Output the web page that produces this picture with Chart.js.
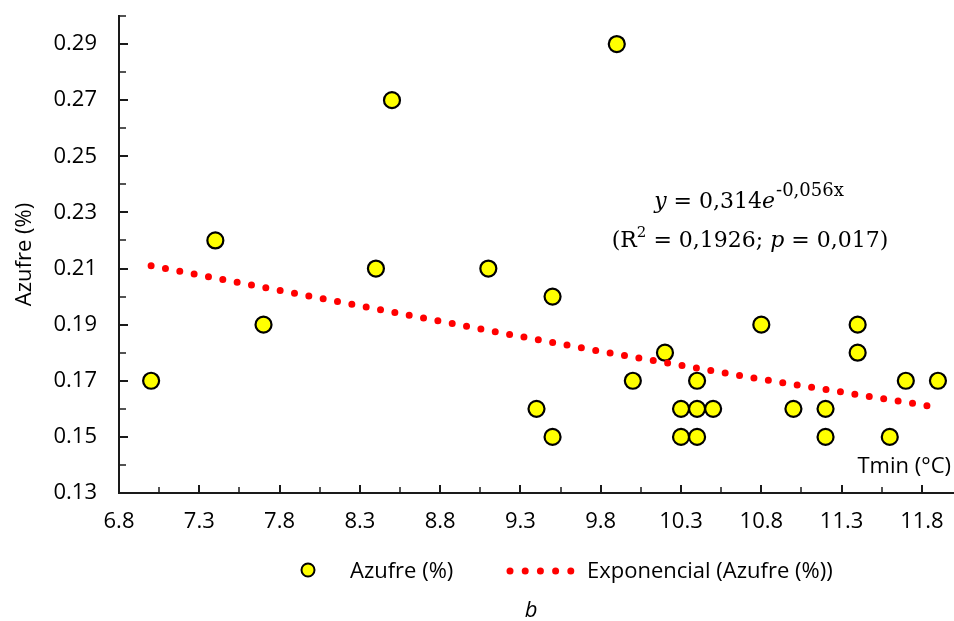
<!DOCTYPE html>
<html>
<head>
<meta charset="utf-8">
<title>Azufre vs Tmin</title>
<script src="https://cdn.jsdelivr.net/npm/chart.js@4.4.1/dist/chart.umd.min.js"></script>
<style>
  html, body { margin: 0; padding: 0; background: #fff; }
  canvas { display: block; }
</style>
</head>
<body>
<canvas id="chart" width="954" height="621"></canvas>
<script>
// Tmin (°C) vs Azufre (%)
const tmin   = [7.0, 7.4, 7.7, 8.4, 8.5, 9.1, 9.4, 9.5, 9.5, 9.9, 10.0, 10.2, 10.3, 10.3, 10.4, 10.4, 10.4, 10.5, 10.8, 11.0, 11.2, 11.2, 11.4, 11.4, 11.6, 11.7, 11.9];
const azufre = [0.17, 0.22, 0.19, 0.21, 0.27, 0.21, 0.16, 0.20, 0.15, 0.29, 0.17, 0.18, 0.16, 0.15, 0.17, 0.16, 0.15, 0.16, 0.19, 0.16, 0.16, 0.15, 0.19, 0.18, 0.15, 0.17, 0.17];

// exponential trendline
const trendX = [7.0, 8.0, 9.0, 9.75, 10.75, 11.9];
const trendY = [0.211, 0.200, 0.189, 0.181, 0.171, 0.1605];

// axis ticks
const xTicks = [6.8, 7.3, 7.8, 8.3, 8.8, 9.3, 9.8, 10.3, 10.8, 11.3, 11.8];
const xMinor = [7.05, 7.55, 8.05, 8.55, 9.05, 9.55, 10.05, 10.55, 11.05, 11.55];
const yTicks = [0.13, 0.15, 0.17, 0.19, 0.21, 0.23, 0.25, 0.27, 0.29];
const yMinor = [0.14, 0.16, 0.18, 0.20, 0.22, 0.24, 0.26, 0.28, 0.30];

const sans = '"Open Sans", "Noto Sans", sans-serif';
const serif = '"DejaVu Serif", serif';
const axisColor = '#1a1a1a';

const points = tmin.map((x, i) => ({ x: x, y: azufre[i] }));
const trend = trendX.map((x, i) => ({ x: x, y: trendY[i] }));

// draws a run of text pieces (italic / superscript) centred on cx
function drawRuns(ctx, runs, cx, baseline) {
  let total = 0;
  runs.forEach(r => {
    ctx.font = r.font;
    r.w = ctx.measureText(r.t).width + (r.gap || 0) + (r.pre || 0);
    total += r.w;
  });
  let x = cx - total / 2;
  runs.forEach(r => {
    ctx.font = r.font;
    ctx.fillText(r.t, x + (r.pre || 0), baseline - (r.rise || 0));
    x += r.w;
  });
}

const extras = {
  id: 'extras',
  afterDraw(chart) {
    const ctx = chart.ctx;
    const xs = chart.scales.x, ys = chart.scales.y;
    const area = chart.chartArea;
    ctx.save();

    // inward tick marks
    ctx.strokeStyle = axisColor;
    const mark = (x1, y1, x2, y2, w) => {
      ctx.lineWidth = w;
      ctx.beginPath();
      ctx.moveTo(x1, y1);
      ctx.lineTo(x2, y2);
      ctx.stroke();
    };
    xTicks.forEach(v => { const p = Math.round(xs.getPixelForValue(v)); mark(p, area.bottom, p, area.bottom - 8, 2); });
    xMinor.forEach(v => { const p = Math.round(xs.getPixelForValue(v)); mark(p, area.bottom, p, area.bottom - 6, 1.5); });
    yTicks.forEach(v => { const p = Math.round(ys.getPixelForValue(v)); mark(area.left, p, area.left + 9, p, 2); });
    yMinor.forEach(v => { const p = Math.round(ys.getPixelForValue(v)); mark(area.left, p, area.left + 7, p, 1.5); });

    // x axis title inside the plot
    ctx.fillStyle = '#000';
    ctx.font = '22px ' + sans;
    ctx.textAlign = 'right';
    ctx.textBaseline = 'alphabetic';
    ctx.fillText('Tmin (°C)', 951, 473);

    // trendline equation
    ctx.textAlign = 'left';
    const f = '22px ' + serif, fi = 'italic 22px ' + serif, fs = '18px ' + serif, fs2 = '15px ' + serif;
    drawRuns(ctx, [
      { t: 'y', font: fi, gap: 7 },
      { t: '=', font: f, gap: 7 },
      { t: '0,314', font: f },
      { t: 'e', font: fi, gap: 1 },
      { t: '-0,056x', font: fs, rise: 12, gap: 2 }
    ], 750, 208);
    drawRuns(ctx, [
      { t: '(R', font: f },
      { t: '2', font: fs2, rise: 10 },
      { t: '=', font: f, gap: 7, pre: 7 },
      { t: '0,1926; ', font: f },
      { t: 'p', font: fi },
      { t: '=', font: f, gap: 7, pre: 7 },
      { t: '0,017)', font: f }
    ], 750, 247);

    // legend
    ctx.fillStyle = '#ffff00';
    ctx.strokeStyle = '#000';
    ctx.lineWidth = 2;
    ctx.beginPath();
    ctx.arc(308, 570, 6.5, 0, Math.PI * 2);
    ctx.fill();
    ctx.stroke();
    ctx.fillStyle = '#000';
    ctx.font = '22px ' + sans;
    ctx.fillText('Azufre (%)', 350, 578);
    ctx.fillStyle = '#ff0000';
    for (let x = 510; x <= 572; x += 15.2) {
      ctx.beginPath();
      ctx.arc(x, 571, 3.5, 0, Math.PI * 2);
      ctx.fill();
    }
    ctx.fillStyle = '#000';
    ctx.fillText('Exponencial (Azufre (%))', 587, 578);

    // panel letter
    ctx.textAlign = 'center';
    ctx.font = 'italic 22px ' + sans;
    ctx.fillText('b', 531, 617);
    ctx.restore();
  }
};

new Chart(document.getElementById('chart'), {
  type: 'scatter',
  data: {
    datasets: [
      {
        label: 'Exponencial (Azufre (%))',
        data: trend,
        showLine: true,
        order: 1,
        borderColor: '#ff0000',
        borderWidth: 7,
        borderDash: [0, 14.6],
        borderCapStyle: 'round',
        pointRadius: 0,
        fill: false,
        tension: 0
      },
      {
        label: 'Azufre (%)',
        data: points,
        order: 2,
        backgroundColor: '#ffff00',
        borderColor: '#000',
        borderWidth: 2.2,
        pointRadius: 8,
        pointHoverRadius: 8
      }
    ]
  },
  options: {
    responsive: false,
    animation: false,
    layout: { autoPadding: false, padding: { top: 16, right: 0, bottom: 0, left: 0 } },
    plugins: {
      legend: { display: false },
      tooltip: { enabled: false }
    },
    scales: {
      x: {
        type: 'linear',
        min: 6.8,
        max: 12.0,
        afterBuildTicks: s => { s.ticks = xTicks.map(v => ({ value: v })); },
        afterFit: s => { s.height = 128; s.paddingLeft = 0; s.paddingRight = 0; },
        grid: { display: false, drawTicks: false },
        border: { display: true, color: axisColor, width: 2 },
        ticks: {
          color: '#000',
          font: { family: sans, size: 22 },
          padding: 16,
          maxRotation: 0,
          autoSkip: false,
          callback: v => v.toFixed(1)
        }
      },
      y: {
        type: 'linear',
        min: 0.13,
        max: 0.30,
        afterBuildTicks: s => { s.ticks = yTicks.map(v => ({ value: v })); },
        afterFit: s => { s.width = 119; s.paddingTop = 0; s.paddingBottom = 0; },
        grid: { display: false, drawTicks: false },
        border: { display: true, color: axisColor, width: 2 },
        title: {
          display: true,
          text: 'Azufre (%)',
          color: '#000',
          font: { family: sans, size: 22 },
          padding: { top: 12, bottom: 0 }
        },
        ticks: {
          color: '#000',
          font: { family: sans, size: 22 },
          padding: 22,
          autoSkip: false,
          callback: v => v.toFixed(2)
        }
      }
    }
  },
  plugins: [extras]
});
</script>
</body>
</html>
